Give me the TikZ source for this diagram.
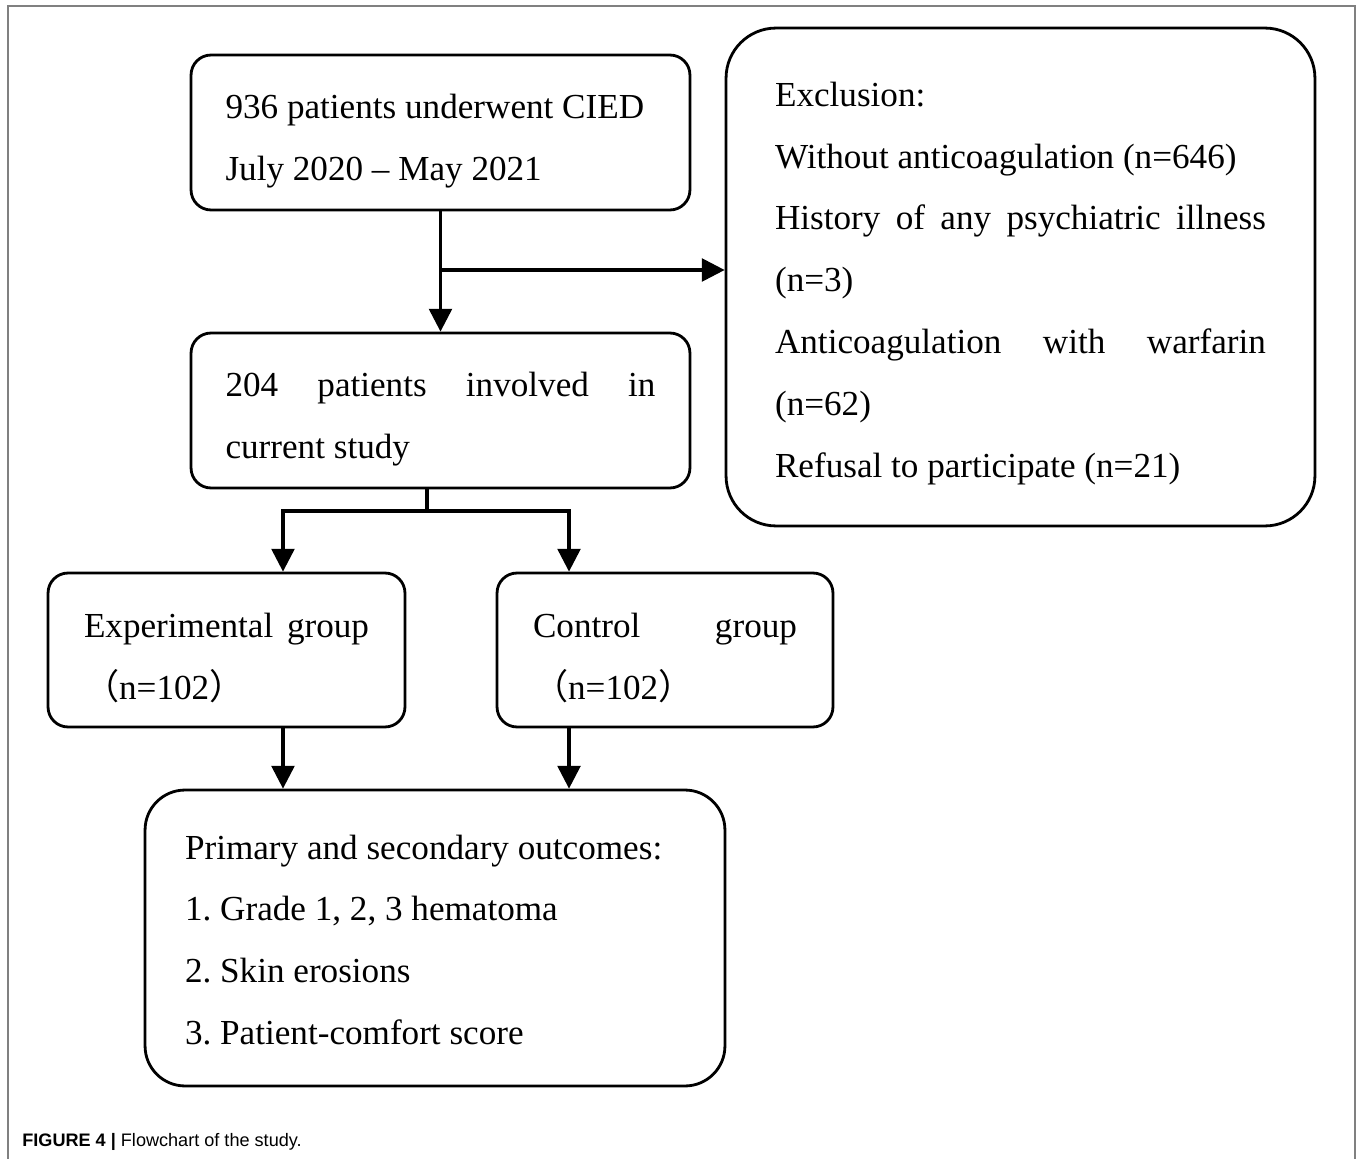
\documentclass[tikz,border=0pt]{standalone}
\usepackage{fontspec}
\setmainfont{Liberation Serif}
\newfontfamily\cjk{Noto Sans CJK SC}
\newfontfamily\capfont{Liberation Sans}
\usetikzlibrary{arrows.meta}

\begin{document}
\frenchspacing
\begin{tikzpicture}[x=0.02cm,y=-0.02cm,
	box/.style={draw,line width=1.6pt,rounded corners=0.4cm,align=justify,inner ysep=0pt,font=\fontsize{20}{35.2}\selectfont},
	lower/.style={execute at begin node={\rule{0pt}{#1}}},
	flow/.style={line width=1.8pt,-{Triangle[length=13pt,width=13pt]}},
	link/.style={line width=1.8pt}]

	\useasboundingbox (0,0) rectangle (1360,1159);
	\draw[gray,line width=1.1pt] (8,1159) -- (8,6) -- (1355,6) -- (1355,1159);

	\node[box,lower=24pt,text width=8.6cm,inner xsep=0.69cm,minimum height=3.1cm] (cied) at (440.5,132.5) {936 patients underwent CIED\\July 2020 -- May 2021};
	\node[box,lower=24pt,text width=8.6cm,inner xsep=0.69cm,minimum height=3.1cm] (study) at (440.5,410.5) {204 patients involved in\linebreak current study};
	\node[box,lower=21pt,text width=9.82cm,inner xsep=0.98cm,minimum height=9.96cm,rounded corners=1cm] (excl) at (1020.5,277) {Exclusion:\\Without anticoagulation (n=646)\\History of any psychiatric illness\linebreak (n=3)\\Anticoagulation with warfarin\linebreak (n=62)\\Refusal to participate (n=21)};
	\node[box,lower=23pt,text width=5.7cm,inner xsep=0.72cm,minimum height=3.08cm] (expgrp) at (226.5,650) {Experimental group\linebreak{\cjk （}n=102{\cjk ）}};
	\node[box,lower=23pt,text width=5.28cm,inner xsep=0.72cm,minimum height=3.08cm] (ctrlgrp) at (665,650) {Control group\linebreak{\cjk （}n=102{\cjk ）}};
	\node[box,lower=16pt,text width=10cm,inner xsep=0.8cm,minimum height=5.92cm,rounded corners=0.8cm] (outcome) at (435,938) {Primary and secondary outcomes:\\1. Grade 1, 2, 3 hematoma\\2. Skin erosions\\3. Patient-comfort score};

	\draw[flow] (cied) -- (study);
	\coordinate (split) at (440.5,270);
	\draw[flow] (split) -- (split -| excl.west);

	\coordinate (fork) at (427,511);
	\draw[link] (study.south -| fork) -- (fork);
	\draw[flow] (fork) -| ([xshift=1.13cm]expgrp.north);
	\draw[flow] (fork) -| ([xshift=-1.92cm]ctrlgrp.north);
	\draw[flow] ([xshift=1.13cm]expgrp.south) -- ([xshift=1.13cm]expgrp.south |- outcome.north);
	\draw[flow] ([xshift=-1.92cm]ctrlgrp.south) -- ([xshift=-1.92cm]ctrlgrp.south |- outcome.north);

	\node[anchor=base west,inner sep=0pt,font=\capfont\fontsize{10.3}{12}\selectfont] (caption) at (22,1146) {\textbf{FIGURE 4 |} Flowchart of the study.};

\end{tikzpicture}
\end{document}
